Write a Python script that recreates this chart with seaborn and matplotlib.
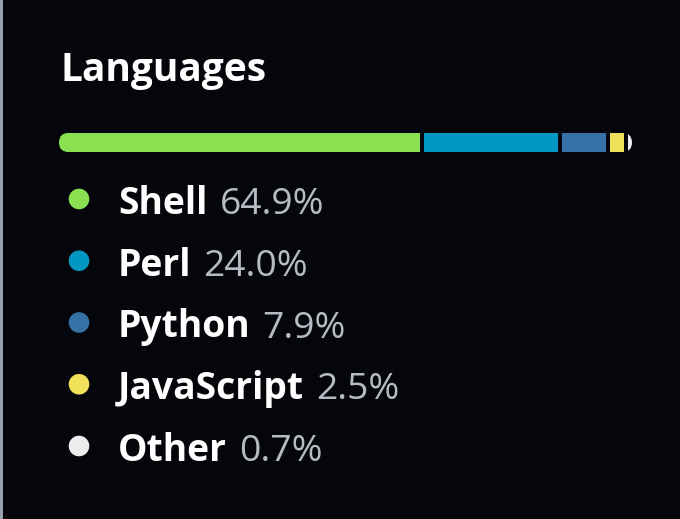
import matplotlib
matplotlib.use("Agg")
import matplotlib.pyplot as plt
from matplotlib.patches import FancyBboxPatch, Rectangle
from matplotlib.transforms import IdentityTransform
import seaborn as sns
import pandas as pd

# ---- data ----
title = "Languages"
languages = ["Shell", "Perl", "Python", "JavaScript", "Other"]
percents = [64.9, 24.0, 7.9, 2.5, 0.7]
colors = ["#89e051", "#0298c3", "#3572A5", "#f1e05a", "#ededed"]

BG = "#05060b"
W, H, DPI = 680, 519, 100

sns.set_theme(style="dark", rc={"axes.facecolor": BG, "figure.facecolor": BG})
plt.rcParams["font.family"] = ["Open Sans", "DejaVu Sans"]

fig = plt.figure(figsize=(W / DPI, H / DPI), dpi=DPI)
fig.patch.set_facecolor(BG)

def px_axes(x0, y0, x1, y1):
    """axes spanning pixel box (top-left origin)"""
    return fig.add_axes([x0 / W, (H - y1) / H, (x1 - x0) / W, (y1 - y0) / H])

# left border
fig.patches.append(Rectangle((0, 0), 3 / W, 1, transform=fig.transFigure,
                             facecolor="#98a1ab", edgecolor="none"))

# title
fig.text(60 / W, (H - 81) / H, title, color="white", fontsize=28,
         fontweight="bold", ha="left", va="baseline")

# ---- stacked bar ----
bx0, by0, bx1, by1 = 59, 133, 632, 152
axb = px_axes(bx0, by0, bx1, by1)
gap_px = 4
seg_px = (bx1 - bx0) - gap_px * (len(percents) - 1)
gap = gap_px / seg_px * sum(percents)
lefts = []
acc = 0.0
for p in percents:
    lefts.append(acc)
    acc += p + gap
df_bar = pd.DataFrame({"lang": languages, "pct": percents, "left": lefts})
bars = axb.barh(y=[0] * len(df_bar), width=df_bar["pct"], left=df_bar["left"],
                color=colors, height=1.0, edgecolor="none")
axb.set_xlim(0, sum(percents) + gap * (len(percents) - 1))
axb.set_ylim(-0.5, 0.5)
axb.set_axis_off()
clip = FancyBboxPatch((bx0, H - by1), bx1 - bx0, by1 - by0,
                      boxstyle=f"round,pad=0,rounding_size={(by1 - by0) / 2}",
                      transform=IdentityTransform(), facecolor="none", edgecolor="none")
for b in bars:
    b.set_clip_path(clip)

# ---- legend list ----
row0, step = 199, 61.75
n = len(languages)
top = row0 - step / 2
axl = px_axes(0, top, W, top + step * n)
axl.set_xlim(0, W)
axl.set_ylim(n - 0.5, -0.5)
axl.set_axis_off()
df = pd.DataFrame({"lang": languages, "pct": percents, "row": range(n), "x": [79] * n})
sns.scatterplot(data=df, x="x", y="row", hue="lang", palette=colors, s=220,
                edgecolor="none", legend=False, ax=axl)

fig.canvas.draw()
for i, (lang, p) in enumerate(zip(languages, percents)):
    t = axl.annotate(lang, xy=(118, i), xytext=(0, -15), textcoords="offset pixels",
                     color="white", fontsize=26.8, fontweight="bold",
                     ha="left", va="baseline")
    axl.annotate(f"{p:.1f}%", xy=(1, 0), xycoords=t, xytext=(12, 0),
                 textcoords="offset pixels", color="#b7bbc3", fontsize=26.8,
                 ha="left", va="bottom")

fig.savefig("out.png", dpi=DPI, facecolor=BG)
